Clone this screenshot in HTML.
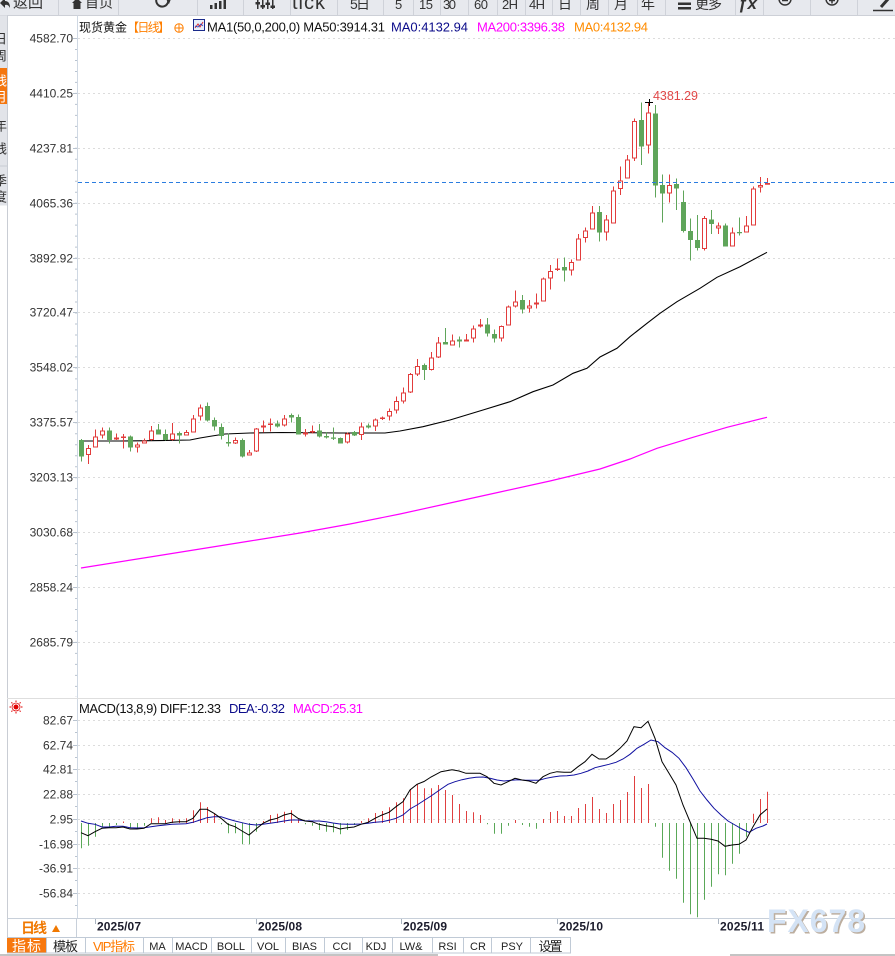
<!DOCTYPE html>
<html><head><meta charset="utf-8">
<style>
html,body{margin:0;padding:0;background:#fff;width:895px;height:956px;overflow:hidden}
svg{display:block}
text{font-family:"Liberation Sans","Noto Sans CJK SC",sans-serif}
.mono{font-family:"Liberation Mono","Noto Sans CJK SC",monospace}
</style></head>
<body>
<svg width="895" height="956" viewBox="0 0 895 956" xmlns="http://www.w3.org/2000/svg">
<rect width="895" height="956" fill="#fff"/>

<!-- toolbar -->
<rect x="0" y="0" width="895" height="15.5" fill="#e7e9ee"/>
<path d="M0 15.5H895" stroke="#cdd0d7" stroke-width="1"/>
<path d="M58.5 0V15 M118.5 0V15 M197.5 0V15 M243.5 0V15 M290.5 0V15 M337.5 0V15 M383.5 0V15 M413.5 0V15 M440.5 0V15 M468.5 0V15 M497.5 0V15 M525.5 0V15 M552.5 0V15 M580.5 0V15 M608.5 0V15 M637.5 0V15 M665.5 0V15 M735.5 0V15 M763.5 0V15 M810.5 0V15 M857.5 0V15" stroke="#cfd2d9" stroke-width="1"/>
<g fill="#333">
<path d="M0 3 L5 -2 L5 1 Q10 1 10 8 Q8 4 5 5 L5 8 Z"/>
<path d="M72 3 L77 -2 L82 3 L80.5 3 L80.5 9 L73.5 9 L73.5 3 Z"/>
<rect x="210" y="5" width="2.5" height="4"/><rect x="214.5" y="3" width="2.5" height="6"/><rect x="219" y="1" width="2.5" height="8"/><rect x="223.5" y="-1" width="2.5" height="10"/>
<rect x="257" y="0" width="1.5" height="9"/><rect x="262" y="0" width="1.5" height="9"/><rect x="267" y="0" width="1.5" height="9"/><rect x="272" y="0" width="1.5" height="9"/>
<rect x="255.5" y="2" width="4.5" height="2.5"/><rect x="260.5" y="5" width="4.5" height="2.5"/><rect x="265.5" y="2.5" width="4.5" height="2.5"/><rect x="270.5" y="5.5" width="4.5" height="2.5"/>
<rect x="678" y="2.5" width="13" height="2.5"/><rect x="678" y="7" width="13" height="2.5"/>
</g>
<path d="M168 -1 A6 6 0 1 1 160 -5" fill="none" stroke="#333" stroke-width="2"/>
<path d="M166 -1 L171 -1 L169 4 Z" fill="#333"/>
<circle cx="785" cy="-1" r="6" fill="none" stroke="#333" stroke-width="1.5"/>
<path d="M782 0.5H788" stroke="#333" stroke-width="1.5"/>
<circle cx="832" cy="-1" r="6" fill="none" stroke="#333" stroke-width="1.5"/>
<path d="M829 0.5H835 M832 -2V3.5" stroke="#333" stroke-width="1.5"/>
<path d="M889 -2 L881 7" stroke="#333" stroke-width="3"/>
<path d="M873 10.5H893" stroke="#333" stroke-width="1.5"/>
<g fill="#333" font-size="14">
<text x="13" y="7.5" font-size="15" textLength="30">返回</text>
<text x="85" y="7.5" textLength="28">首页</text>
<text x="292" y="9" font-size="20" textLength="33">tick</text>
<text x="350" y="9" textLength="20">5日</text>
<text x="395" y="9" font-size="13">5</text>
<text x="419" y="9" font-size="13" textLength="14">15</text>
<text x="443" y="9" font-size="13" textLength="13">30</text>
<text x="474" y="9" font-size="13" textLength="14">60</text>
<text x="502" y="9" font-size="13" textLength="16">2H</text>
<text x="529" y="9" font-size="13" textLength="16">4H</text>
<text x="558" y="9" textLength="13">日</text>
<text x="586" y="9" textLength="13">周</text>
<text x="614" y="9" textLength="13">月</text>
<text x="641" y="9" textLength="14">年</text>
<text x="695" y="9" textLength="27">更多</text>
<text x="738" y="9" font-size="17" font-weight="bold" font-style="italic" font-family="Liberation Serif,serif" textLength="19">ƒx</text>
</g>

<!-- left strip -->
<svg x="0" y="15.5" width="7" height="190">
<rect width="7" height="190" fill="#e2e4e9"/>
<rect y="52.5" width="7" height="36" fill="#f4760e"/>
<path d="M0 150.5H7" stroke="#c8ccd3"/>
<g font-size="13" fill="#333">
<text x="-6" y="28">日</text><text x="-6" y="45">周</text>
<text x="-6" y="70" fill="#fff">线</text><text x="-6" y="86" fill="#fff">月</text>
<text x="-6" y="115">年</text><text x="-6" y="138">线</text>
<text x="-6" y="170">季</text><text x="-6" y="186">度</text>
</g>
</svg>
<path d="M7.5 15.5V953" stroke="#c9cdd4" stroke-width="1"/>

<!-- y axis -->
<path d="M77.5 15.5V918" stroke="#cfd8e3" stroke-width="1"/>
<path d="M76 38V697" stroke="#b9c3cf" stroke-width="2" stroke-dasharray="1 9.98"/>

<!-- main grid -->
<g stroke="#dcdcdc" stroke-width="1" stroke-dasharray="2 3">
<path d="M78 38.5H895 M78 93.5H895 M78 148.5H895 M78 203.5H895 M78 258.5H895 M78 312.5H895 M78 367.5H895 M78 422.5H895 M78 477.5H895 M78 532.5H895 M78 587.5H895 M78 642.5H895"/>
<path d="M78 720.5H895 M78 745.5H895 M78 769.5H895 M78 794.5H895 M78 819.5H895 M78 844.5H895 M78 868.5H895 M78 893.5H895"/>
</g>
<path d="M73 38.5H77 M73 93.5H77 M73 148.5H77 M73 203.5H77 M73 258.5H77 M73 312.5H77 M73 367.5H77 M73 422.5H77 M73 477.5H77 M73 532.5H77 M73 587.5H77 M73 642.5H77 M73 720.5H77 M73 745.5H77 M73 769.5H77 M73 794.5H77 M73 819.5H77 M73 844.5H77 M73 868.5H77 M73 893.5H77 M75 732.5H77 M75 757.5H77 M75 781.5H77 M75 806.5H77 M75 831.5H77 M75 856.5H77 M75 880.5H77 M75 905.5H77" stroke="#b9c3cf" stroke-width="1"/>

<g font-size="12" fill="#333" text-anchor="end">
<text x="73" y="42.5">4582.70</text>
<text x="73" y="97.5">4410.25</text>
<text x="73" y="152.5">4237.81</text>
<text x="73" y="207.5">4065.36</text>
<text x="73" y="262.5">3892.92</text>
<text x="73" y="316.5">3720.47</text>
<text x="73" y="371.5">3548.02</text>
<text x="73" y="426.5">3375.57</text>
<text x="73" y="481.5">3203.13</text>
<text x="73" y="536.5">3030.68</text>
<text x="73" y="591.5">2858.24</text>
<text x="73" y="646.5">2685.79</text>
<text x="73" y="724.5">82.67</text>
<text x="73" y="749.5">62.74</text>
<text x="73" y="773.5">42.81</text>
<text x="73" y="798.5">22.88</text>
<text x="73" y="823.5">2.95</text>
<text x="73" y="848.5">-16.98</text>
<text x="73" y="872.5">-36.91</text>
<text x="73" y="897.5">-56.84</text>
</g>

<!-- legend -->
<text x="79" y="31.5" font-size="12" fill="#111" textLength="48">现货黄金</text>
<text x="127" y="31.5" font-size="12" fill="#ff7f00" textLength="43">【日线】</text>
<circle cx="179" cy="28" r="4.2" fill="none" stroke="#ff7f00" stroke-width="1"/>
<path d="M174.8 28H183.2 M179 23.8V32.2" stroke="#ff7f00" stroke-width="1"/>
<rect x="193.5" y="19.5" width="11" height="11" fill="#e6effa" stroke="#1a2a8a" stroke-width="1"/>
<polyline points="195,28 198,24 200,27 203,22" fill="none" stroke="#e03030" stroke-width="1"/>
<polyline points="195,26 198,27 201,24 203,26" fill="none" stroke="#2040c0" stroke-width="0.8"/>
<text x="207" y="31.5" font-size="13" fill="#111" textLength="178">MA1(50,0,200,0) MA50:3914.31</text>
<text x="391" y="31.5" font-size="13" fill="#0b0b8a" textLength="77">MA0:4132.94</text>
<text x="477" y="31.5" font-size="13" fill="#ff00ff" textLength="88">MA200:3396.38</text>
<text x="574" y="31.5" font-size="13" fill="#ff8c00" textLength="74">MA0:4132.94</text>

<!-- MA lines -->
<polyline fill="none" stroke="#ff00ff" stroke-width="1.2" points="81,568 150,557 200,549 250,541 300,533 350,524 400,514 450,503 500,492 550,481 600,469 630,459 657,448.3 693,437.3 727,427.3 767,417.3"/>
<polyline fill="none" stroke="#000" stroke-width="1.1" points="81,441 120,441 160,440.6 190,440 200,438 212,436 225,434 250,433 282,432.5 340,433 385,433 400,431 423,426.7 450,420 483,410 510,401.7 533,391.7 553,385 573,373.3 587,368.3 600,357 617,348.3 630,336.7 647,323.3 660,313.3 677,301.7 700,288.3 717,277.3 740,266.7 767,252.3"/>

<!-- candles: green -->
<path fill="none" stroke="#5fa55a" stroke-width="1" d="M81.5 439V461.5 M109.5 427.5V443.5 M130.5 435.5V451.5 M158.5 424V434.5 M165.5 429.5V440.5 M179.5 431.5V443.5 M207.5 402.5V421.5 M214.5 417.5V430.5 M221.5 423.5V439.5 M228.5 433.5V446.5 M242.5 438.5V457.5 M277.5 420.5V427.5 M291.5 413.5V422.5 M298.5 414.5V434.5 M319.5 424V437.5 M326.5 432V438.5 M333.5 427.5V440 M340.5 437.5V443.5 M354.5 431V436 M368.5 423.5V428.5 M424.5 363.5V380 M445.5 328V344.5 M459.5 336.5V347.5 M487.5 318V336.5 M494.5 329.5V342.5 M522.5 295V313.5 M564.5 257.5V281.5 M599.5 206V241.5 M641.5 102.5V165 M655.5 105V197.5 M662.5 174.5V222.5 M676.5 178.5V210 M683.5 190.5V232.5 M690.5 218.5V260.5 M697.5 215V250.5 M711.5 210V234 M725.5 223.5V246.5 M739.5 217.5V235.5"/>
<path fill="#5fa55a" d="M79 440h5v16.5h-5z M107 430.5h5v9.5h-5z M128 436.5h5v11h-5z M156 429.5h5v5h-5z M163 434h5v6h-5z M177 433h5v2.5h-5z M205 406h5v14.5h-5z M212 420h5v6.5h-5z M219 427h5v9h-5z M226 442h5v1.5h-5z M240 440h5v16.5h-5z M275 423.5h5v3h-5z M289 415h5v2.5h-5z M296 417h5v17.5h-5z M317 430.5h5v6h-5z M324 436h5v1.5h-5z M331 437.5h5v1.2h-5z M338 438h5v5.5h-5z M352 432h5v3.5h-5z M366 425.5h5v2h-5z M422 365h5v5h-5z M443 342h5v2.5h-5z M457 339.5h5v2h-5z M485 324.5h5v9h-5z M492 334h5v4.5h-5z M520 300h5v9.5h-5z M562 267h5v3.5h-5z M597 212h5v20.5h-5z M639 120h5v26.5h-5z M653 113.5h5v72h-5z M660 185h5v8.5h-5z M674 184h5v4.5h-5z M681 202h5v29h-5z M688 231h5v9h-5z M695 240h5v8h-5z M709 219.5h5v4.5h-5z M723 225.5h5v21h-5z M737 232h5v1.2h-5z"/>

<!-- candles: red -->
<path fill="none" stroke="#e23c3c" stroke-width="1" d="M88.5 445V464 M95.5 429.5V447.5 M102.5 427.5V438.5 M116.5 433.5V440 M123.5 434V448.5 M137.5 442.5V452.5 M144.5 438.5V443.5 M151.5 426V440.5 M172.5 423V440.5 M186.5 430V435.5 M193.5 415V432.5 M200.5 404.5V420.5 M235.5 437.5V444 M249.5 450V455.5 M256.5 428V452 M263.5 420.5V432.5 M270.5 418.5V431.5 M284.5 415V426.5 M305.5 429V436.5 M312.5 425.5V433.5 M347.5 432.5V443.5 M361.5 422.5V440 M375.5 418.5V431 M382.5 416.5V420 M389.5 408.5V420.5 M396.5 396.5V413.5 M403.5 387.5V403.5 M410.5 373V393 M417.5 359V376 M431.5 352V370.5 M438.5 337V358 M452.5 334.5V345.5 M466.5 334V341.5 M473.5 325.5V342.5 M480.5 319V327.5 M501.5 325.5V341.5 M508.5 305.5V325.5 M515.5 290.5V307.5 M529.5 300V312.5 M536.5 293.5V308.5 M543.5 277.5V301.5 M550.5 265V289.5 M557.5 258.5V271 M571.5 259.5V275.5 M578.5 234V260.5 M585.5 227.5V242.5 M592.5 206V229.5 M606.5 215V240.5 M613.5 186.5V223.5 M620.5 166.5V195 M627.5 155V178.5 M634.5 118.5V161 M648.5 102V153.5 M669.5 174.5V202.5 M704.5 216V250.5 M718.5 222.5V234 M732.5 227.5V246.5 M746.5 216V232.5 M753.5 186.5V225.5 M760.5 177V192.5 M767.5 178V184.5"/>
<path fill="#fff" stroke="#e23c3c" stroke-width="1" d="M86.5 448.5h4v6h-4z M93.5 437h4v10h-4z M100.5 431h4v4h-4z M114.5 438h4v1h-4z M135.5 445h4v2h-4z M142.5 441h4v2h-4z M149.5 431h4v8.5h-4z M170.5 434h4v5.5h-4z M184.5 432.5h4v2.5h-4z M191.5 419h4v13h-4z M198.5 408h4v8h-4z M233.5 440.5h4v2.5h-4z M247.5 453h4v2h-4z M254.5 429h4v22h-4z M261.5 426h4v1h-4z M282.5 419h4v6h-4z M303.5 433h4v1h-4z M345.5 434h4v8h-4z M359.5 427h4v7.5h-4z M373.5 420h4v6h-4z M387.5 411.5h4v4.5h-4z M394.5 401.5h4v8.5h-4z M401.5 393h4v8h-4z M408.5 374.5h4v17.5h-4z M415.5 366.5h4v7.5h-4z M429.5 358h4v11.5h-4z M436.5 343h4v14h-4z M450.5 341h4v4h-4z M464.5 340h4v1h-4z M471.5 329h4v9h-4z M478.5 325h4v1h-4z M499.5 326.5h4v11.5h-4z M506.5 307h4v18h-4z M513.5 302h4v4h-4z M527.5 306h4v2h-4z M534.5 303h4v1h-4z M541.5 279h4v22h-4z M548.5 271.5h4v6.5h-4z M569.5 262.5h4v7.5h-4z M576.5 239h4v21h-4z M583.5 231h4v6.5h-4z M590.5 213h4v16h-4z M604.5 220h4v12h-4z M611.5 191h4v32h-4z M618.5 181h4v7.5h-4z M625.5 160h4v18h-4z M632.5 121.5h4v36.5h-4z M646.5 113h4v32h-4z M667.5 185.5h4v7.5h-4z M702.5 218.5h4v30h-4z M716.5 226h4v2h-4z M730.5 233h4v13h-4z M744.5 226h4v6h-4z M751.5 189h4v36h-4z M758.5 185.5h4v1.5h-4z"/>
<path fill="#e23c3c" d="M121 436.5h5v1.5h-5z M268 423.5h5v1.5h-5z M310 431h5v1.5h-5z M380 417.5h5v1.5h-5z M555 268.5h5v1.5h-5z M765 183h5v1.8h-5z"/>

<!-- current price dashed line -->
<path d="M78 182.5H895" stroke="#2b7de0" stroke-width="1" stroke-dasharray="4 3"/>

<!-- high marker -->
<path d="M645 102.5H653 M649.5 99V106" stroke="#000" stroke-width="1"/>
<text x="653" y="100" font-size="12.5" fill="#e04848" textLength="45">4381.29</text>

<!-- panel separator -->
<path d="M7 698.5H895" stroke="#dedede" stroke-width="1"/>

<!-- MACD icon -->
<circle cx="16" cy="707" r="2.5" fill="#e00000"/>
<circle cx="16" cy="707" r="4" fill="none" stroke="#e00000" stroke-width="0.8"/>
<path d="M16 700.5V702 M16 712V713.5 M9.5 707H11 M21 707H22.5 M11.4 702.4L12.4 703.4 M19.6 710.6L20.6 711.6 M20.6 702.4L19.6 703.4 M12.4 710.6L11.4 711.6" stroke="#e00000" stroke-width="1"/>

<!-- MACD legend -->
<text x="79" y="713" font-size="13" fill="#111" textLength="142">MACD(13,8,9) DIFF:12.33</text>
<text x="229" y="713" font-size="13" fill="#0b0b8a" textLength="56">DEA:-0.32</text>
<text x="293" y="713" font-size="13" fill="#ff00ff" textLength="70">MACD:25.31</text>

<!-- MACD histogram -->
<path fill="none" stroke="#e04040" stroke-width="1" d="M123.5 823V821.5 M151.5 823V818.3 M158.5 823V817.3 M165.5 823V820 M172.5 823V818.3 M179.5 823V819.3 M186.5 823V818.3 M193.5 823V810.3 M200.5 823V802.3 M207.5 823V807 M214.5 823V813.3 M263.5 823V821 M270.5 823V815 M277.5 823V813.7 M284.5 823V811.7 M291.5 823V810.3 M298.5 823V819 M361.5 823V821 M368.5 823V818.3 M375.5 823V813 M382.5 823V811 M389.5 823V807.3 M396.5 823V802.3 M403.5 823V798.3 M410.5 823V789 M417.5 823V784.3 M424.5 823V788.3 M431.5 823V788.3 M438.5 823V785 M445.5 823V790 M452.5 823V795 M459.5 823V804 M466.5 823V811 M473.5 823V812.3 M480.5 823V815 M515.5 823V820 M543.5 823V819 M550.5 823V812 M557.5 823V811 M564.5 823V816 M571.5 823V816 M578.5 823V808 M585.5 823V804 M592.5 823V797 M599.5 823V809 M606.5 823V813 M613.5 823V804 M620.5 823V800 M627.5 823V792 M634.5 823V776 M641.5 823V788 M648.5 823V784 M753.5 823V813.7 M760.5 823V799 M767.5 823V791.7"/>
<path fill="none" stroke="#5aa858" stroke-width="1" d="M81.5 823V848.3 M88.5 823V845.7 M95.5 823V836.7 M102.5 823V826.7 M109.5 823V826.7 M116.5 823V825 M130.5 823V827.7 M137.5 823V827.7 M144.5 823V825.7 M221.5 823V824.3 M228.5 823V833.3 M235.5 823V833.3 M242.5 823V844.3 M249.5 823V844.3 M256.5 823V831.7 M305.5 823V824.3 M312.5 823V825.7 M319.5 823V830 M326.5 823V831.7 M333.5 823V832.3 M340.5 823V834.3 M347.5 823V830 M354.5 823V825 M487.5 823V824.3 M494.5 823V833.7 M501.5 823V833.7 M508.5 823V825.7 M522.5 823V825 M529.5 823V826.7 M536.5 823V828.7 M655.5 823V826.7 M662.5 823V857.7 M669.5 823V870.7 M676.5 823V878.7 M683.5 823V902.7 M690.5 823V914.3 M697.5 823V917.3 M704.5 823V899.7 M711.5 823V886.7 M718.5 823V874.3 M725.5 823V875.3 M732.5 823V863.7 M739.5 823V853.7 M746.5 823V836.7"/>

<!-- DEA -->
<polyline fill="none" stroke="#1010a0" stroke-width="1" points="81,821 88,823.3 95,824.3 102,827 109,827 116,826.3 123,826.3 130,827.7 137,828 144,827.7 151,826.7 158,825.7 165,825 172,824.3 179,824 186,823.7 193,822.3 200,820 207,817.7 214,816.7 221,816.7 228,819 235,821 242,822.7 249,824.3 256,825 263,824.3 270,823.3 277,822.3 284,821 291,820 298,820 305,820.7 312,821 319,821 326,821.7 333,823 340,824 347,824.3 354,824.3 361,824 368,823.3 375,822.3 382,821.7 389,820.3 396,818.3 403,815 410,809 417,805 424,800.5 431,796 441,789 448,784.3 455,781.7 462,779.7 469,778.3 476,777.3 483,777 490,778.3 497,780 504,781 511,780.3 518,779.7 525,780.3 532,780.3 539,780.3 546,778.3 553,777 560,776 567,775.7 574,775 581,773.3 588,771 595,767.7 602,766 609,764.3 616,762.3 623,759 630,754.3 637,748.3 644,744.3 651,740 658,741.7 665,747.7 672,752.3 679,758.3 686,767.7 693,779 700,791 707,800 714,808.3 721,815 728,821 735,825 742,829 749,832.3 756,828.3 763,826 767,824"/>
<!-- DIFF -->
<polyline fill="none" stroke="#000" stroke-width="1" points="81,832.7 88,835.7 95,831.7 102,828.3 109,827.7 116,827.7 123,827 130,829 137,829 144,828.3 151,823.7 158,823.7 165,823.7 172,822.3 179,821.7 186,821.7 193,818.3 200,809.3 207,809.3 214,813.3 221,818.3 228,824.3 235,826.7 242,831 249,835 256,829 263,823.3 270,820 277,818.3 284,815 291,813.3 298,818.3 305,821 312,821.7 319,824.3 326,825.7 333,826.7 340,829 347,827.7 354,827 361,824.3 368,822.3 375,818.3 382,815 389,812.3 396,806.7 403,801.7 410,790 417,784.3 424,781.5 431,777 441,771.7 452,769.7 459,771 466,773.3 480,773.3 487,776.7 494,783.3 501,785 508,781.7 515,778.3 522,780 529,781 536,783.3 543,776.7 550,773.3 557,771.7 564,772.3 571,772.3 578,766.7 585,761.7 592,754.3 599,759 606,759 613,754.3 620,748.3 627,741 634,726.7 641,727.7 648,721.3 655,738.3 662,761.7 669,773.3 676,785 683,805 690,821.7 697,838.3 704,838.3 711,839.3 718,841 725,846.3 732,845 739,844.3 746,840 753,826.7 760,815 767,809"/>

<!-- date row -->
<path d="M7 918.5H895" stroke="#c8d0da" stroke-width="1"/>
<path d="M76.5 918V937.5" stroke="#c8d0da" stroke-width="1"/>
<path d="M95.5 919V924 M256.5 919V924 M401.5 919V924 M557.5 919V924 M718.5 919V924" stroke="#aab4c0" stroke-width="1"/>
<g font-size="12" font-weight="bold" fill="#1c1c2c">
<text x="97" y="930.7" textLength="44">2025/07</text>
<text x="258" y="930.7" textLength="44">2025/08</text>
<text x="403" y="930.7" textLength="44">2025/09</text>
<text x="559" y="930.7" textLength="44">2025/10</text>
<text x="720" y="930.7" textLength="44">2025/11</text>
</g>
<text x="21" y="933" font-size="14" font-weight="bold" fill="#f07800" textLength="26">日线</text>
<path d="M52 932 L56 925 L60 932 Z" fill="#f07800"/>

<!-- watermark -->
<text x="768.5" y="933.5" font-size="32" font-weight="bold" fill="#bcae9f" textLength="98">FX678</text>
<text x="767" y="932" font-size="32" font-weight="bold" fill="#d4e3f5" textLength="98">FX678</text>

<!-- tab bar -->
<rect x="7" y="937.5" width="39" height="15.5" fill="#f7780f"/>
<path d="M7 937.5H571 M7 953H571" stroke="#c0cad6" stroke-width="1"/>
<path d="M46.5 937.5V953 M85.5 937.5V953 M143.5 937.5V953 M172.5 937.5V953 M211.5 937.5V953 M251.5 937.5V953 M285.5 937.5V953 M324.5 937.5V953 M362.5 937.5V953 M392.5 937.5V953 M432.5 937.5V953 M463.5 937.5V953 M491.5 937.5V953 M530.5 937.5V953 M570.5 937.5V953" stroke="#c0cad6" stroke-width="1"/>
<text x="26.5" y="951" font-size="14" fill="#fff" text-anchor="middle" textLength="29">指标</text>
<text x="65.5" y="951" font-size="13" fill="#222" text-anchor="middle" textLength="25">模板</text>
<text x="114" y="951" font-size="13" fill="#ff7a00" text-anchor="middle" textLength="42">VIP指标</text>
<g class="mono" font-size="11" fill="#222" text-anchor="middle">
<text x="157.5" y="950">MA</text>
<text x="191.5" y="950">MACD</text>
<text x="231" y="950">BOLL</text>
<text x="268" y="950">VOL</text>
<text x="304.5" y="950">BIAS</text>
<text x="342" y="950">CCI</text>
<text x="376" y="950">KDJ</text>
<text x="411" y="950">LW&amp;</text>
<text x="447.5" y="950">RSI</text>
<text x="478" y="950">CR</text>
<text x="512" y="950">PSY</text>
</g>
<text x="550.5" y="951" font-size="13" fill="#222" text-anchor="middle" textLength="24">设置</text>
<path d="M0 955H438 M730 955H895" stroke="#c4c4c4" stroke-width="2"/>
</svg>
</body></html>
